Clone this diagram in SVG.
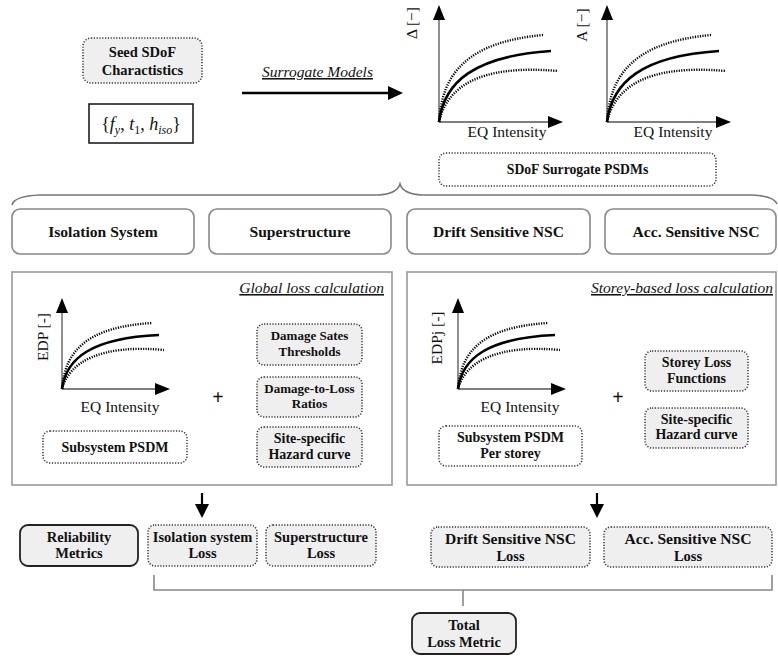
<svg xmlns="http://www.w3.org/2000/svg" width="778" height="656" viewBox="0 0 778 656" font-family="'Liberation Serif','Times New Roman',serif">
<style>
text{font-family:"Liberation Serif","Times New Roman",serif;fill:#111}
.b{font-weight:bold;text-anchor:middle}
.h{font-size:14.5px}
.H{font-size:15.6px}
.s{font-size:13px}
.m{font-size:14px}
.ax{font-size:15.5px;text-anchor:middle}
.it{font-style:italic;font-size:15.5px;text-decoration:underline}
.dot{fill:#efefef;stroke:#333;stroke-width:1.5;stroke-dasharray:1.2 1.6}
.dotw{fill:#fff;stroke:#333;stroke-width:1.5;stroke-dasharray:1.2 1.6}
.hdr{fill:#fff;stroke:#888;stroke-width:1.6}
.pan{fill:#fff;stroke:#999;stroke-width:1.6}
.sol{fill:#efefef;stroke:#222;stroke-width:1.8}
.axl{stroke:#555;stroke-width:1.3;fill:none}
.cs{stroke:#000;stroke-width:2.6;fill:none}
.cd{stroke:#000;stroke-width:2.4;fill:none;stroke-dasharray:1.2 1.3}
.con{stroke:#888;stroke-width:1.6;fill:none}
</style>
<defs>
<g id="plotBig">
<path class="axl" d="M0,0 V-104 M0,0 H112"/>
<path d="M0,-117 L-6,-102 L6,-102 Z M124,0 L109,-6 L109,6 Z" fill="#000"/>
<path class="cd" d="M0,0 C3,-50 30,-80 104,-87"/>
<path class="cs" d="M0,0 C5,-40 35,-66 112,-71"/>
<path class="cd" d="M0,0 C8,-35 40,-58 119,-51"/>
</g>
<g id="plotSmall">
<path class="axl" d="M0,0 V-78 M0,0 H96"/>
<path d="M0,-91 L-6,-76 L6,-76 Z M108,0 L93,-6 L93,6 Z" fill="#000"/>
<path class="cd" d="M0,0 C3,-39 26,-62 90,-66"/>
<path class="cs" d="M0,0 C4,-31 30,-51 97,-54"/>
<path class="cd" d="M0,0 C7,-27 39,-45 102,-39"/>
</g>
</defs>

<g id="connectors">
<line x1="242" y1="93" x2="390" y2="93" stroke="#000" stroke-width="2.6"/>
<path d="M403,93 L388,86 L388,100 Z" fill="#000"/>
<path d="M12,205 Q14,196 40,195 L378,195 Q397,194 400,184 Q403,194 422,195 L752,195 Q774,196 777,204" stroke="#777" stroke-width="1.6" fill="none"/>
<line x1="202" y1="493" x2="202" y2="507" stroke="#000" stroke-width="2.2"/>
<path d="M202,518 L195,504 L209,504 Z" fill="#000"/>
<line x1="597" y1="493" x2="597" y2="507" stroke="#000" stroke-width="2.2"/>
<path d="M597,518 L590,504 L604,504 Z" fill="#000"/>
<path class="con" d="M154,575 V590 H772 V575 M463,590 V606"/>
</g>

<g id="seed">
<rect class="dot" x="83" y="38" width="119" height="45" rx="8"/>
<text class="b h" x="142.5" y="57">Seed SDoF</text>
<text class="b h" x="142.5" y="75">Charactistics</text>
</g>
<g id="params">
<rect x="89" y="104" width="104" height="39" fill="#fff" stroke="#111" stroke-width="1.5"/>
<text x="141" y="130" font-size="18" text-anchor="middle" font-style="italic"><tspan font-style="normal">{</tspan>f<tspan font-size="12" dy="4">y</tspan><tspan dy="-4" font-style="normal">, </tspan>t<tspan font-size="12" dy="4" font-style="normal">1</tspan><tspan dy="-4" font-style="normal">, </tspan>h<tspan font-size="12" dy="4">iso</tspan><tspan dy="-4" font-style="normal">}</tspan></text>
</g>
<g id="surrogate-label">
<text class="it" x="262" y="77" font-size="15">Surrogate Models</text>
</g>

<g id="plot-delta">
<use href="#plotBig" transform="translate(439,122)"/>
<text class="ax" transform="translate(417,23) rotate(-90)">Δ [−]</text>
<text class="ax" x="507" y="137">EQ Intensity</text>
</g>
<g id="plot-acc">
<use href="#plotBig" transform="translate(607,122)"/>
<text class="ax" transform="translate(587,25) rotate(-90)">A [−]</text>
<text class="ax" x="673" y="137">EQ Intensity</text>
</g>
<g id="sdof-psdms">
<rect class="dotw" x="439" y="153" width="277" height="33" rx="7"/>
<text class="b" x="577.5" y="174" font-size="13.7">SDoF Surrogate PSDMs</text>
</g>

<g id="hdr-iso"><rect class="hdr" x="12" y="209" width="182" height="45" rx="8"/><text class="b H" x="103" y="237">Isolation System</text></g>
<g id="hdr-sup"><rect class="hdr" x="209" y="209" width="182" height="45" rx="8"/><text class="b H" x="300" y="237">Superstructure</text></g>
<g id="hdr-drift"><rect class="hdr" x="407" y="209" width="183" height="45" rx="8"/><text class="b H" x="498.5" y="237">Drift Sensitive NSC</text></g>
<g id="hdr-acc"><rect class="hdr" x="605" y="209" width="171" height="45" rx="8"/><text class="b H" x="696" y="237">Acc. Sensitive NSC</text></g>

<g id="panel-global">
<rect class="pan" x="12" y="272" width="380" height="213"/>
<text class="it" x="384" y="293" text-anchor="end">Global loss calculation</text>
<use href="#plotSmall" transform="translate(62,389)"/>
<text class="ax" transform="translate(48,337) rotate(-90)">EDP [-]</text>
<text class="ax" x="120" y="412">EQ Intensity</text>
<text x="218" y="404" font-size="20" font-weight="bold" text-anchor="middle" font-family="Liberation Sans,sans-serif">+</text>
</g>
<g id="subsys-psdm"><rect class="dotw" x="43" y="431" width="144" height="32" rx="7"/><text class="b m" x="115" y="452">Subsystem PSDM</text></g>
<g id="ds-thresholds"><rect class="dot" x="257" y="324" width="105" height="41" rx="7"/><text class="b s" x="309.5" y="340">Damage Sates</text><text class="b s" x="309.5" y="356">Thresholds</text></g>
<g id="dl-ratios"><rect class="dot" x="257" y="377" width="105" height="40" rx="7"/><text class="b s" x="309.5" y="393">Damage-to-Loss</text><text class="b s" x="309.5" y="408">Ratios</text></g>
<g id="hazard-1"><rect class="dot" x="257" y="427" width="105" height="40" rx="7"/><text class="b m" x="309.5" y="443">Site-specific</text><text class="b m" x="309.5" y="459">Hazard curve</text></g>

<g id="panel-storey">
<rect class="pan" x="407" y="272" width="369" height="213"/>
<text class="it" x="773" y="293" text-anchor="end">Storey-based loss calculation</text>
<use href="#plotSmall" transform="translate(458,389)"/>
<text class="ax" transform="translate(442,338) rotate(-90)">EDPj [-]</text>
<text class="ax" x="520" y="412">EQ Intensity</text>
<text x="618" y="404" font-size="20" font-weight="bold" text-anchor="middle" font-family="Liberation Sans,sans-serif">+</text>
</g>
<g id="subsys-psdm-storey"><rect class="dotw" x="439" y="426" width="143" height="40" rx="7"/><text class="b m" x="510.5" y="442">Subsystem PSDM</text><text class="b m" x="510.5" y="458">Per storey</text></g>
<g id="storey-loss"><rect class="dot" x="645" y="351" width="103" height="40" rx="7"/><text class="b m" x="696.5" y="367">Storey Loss</text><text class="b m" x="696.5" y="383">Functions</text></g>
<g id="hazard-2"><rect class="dot" x="645" y="408" width="103" height="40" rx="7"/><text class="b m" x="696.5" y="424">Site-specific</text><text class="b m" x="696.5" y="439">Hazard curve</text></g>

<g id="reliability"><rect class="sol" x="20" y="525" width="118" height="41" rx="8"/><text class="b h" x="79" y="542">Reliability</text><text class="b h" x="79" y="558">Metrics</text></g>
<g id="iso-loss"><rect class="dot" x="148" y="525" width="109" height="41" rx="7"/><text class="b h" x="202.5" y="542">Isolation system</text><text class="b h" x="202.5" y="558">Loss</text></g>
<g id="sup-loss"><rect class="dot" x="266" y="525" width="110" height="41" rx="7"/><text class="b h" x="321" y="542">Superstructure</text><text class="b h" x="321" y="558">Loss</text></g>
<g id="drift-loss"><rect class="dot" x="431" y="527" width="159" height="40" rx="7"/><text class="b H" x="510.5" y="544">Drift Sensitive NSC</text><text class="b h" x="510.5" y="561">Loss</text></g>
<g id="acc-loss"><rect class="dot" x="604" y="527" width="168" height="40" rx="7"/><text class="b H" x="688" y="544">Acc. Sensitive NSC</text><text class="b h" x="688" y="561">Loss</text></g>
<g id="total"><rect class="sol" x="412" y="613" width="104" height="41" rx="8"/><text class="b h" x="464" y="630">Total</text><text class="b h" x="464" y="647">Loss Metric</text></g>
</svg>
